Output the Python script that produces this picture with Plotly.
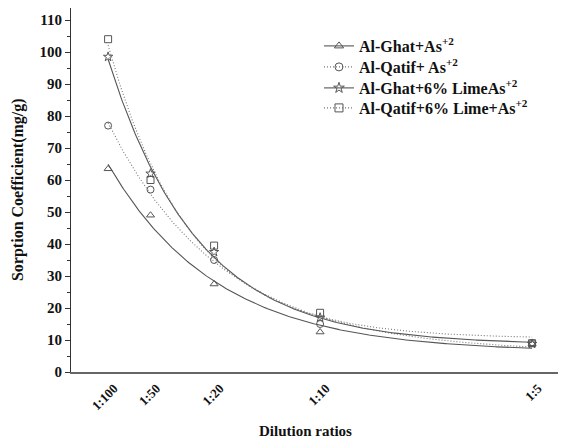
import numpy as np
import plotly.graph_objects as go

# Data
ratio_labels = ["1:100", "1:50", "1:20", "1:10", "1:5"]
ratio_x = [0.0, 0.02, 0.05, 0.10, 0.20]

ghat = [63.5, 49.0, 27.5, 12.5, 8.8]
qatif = [77.0, 57.0, 35.0, 15.0, 9.0]
ghat_lime = [98.5, 62.0, 37.5, 17.0, 8.8]
qatif_lime = [104.0, 60.0, 39.5, 18.5, 9.0]

series_names = [
    "<b>Al-Ghat+As<sup>+2</sup></b>",
    "<b>Al-Qatif+ As<sup>+2</sup></b>",
    "<b>Al-Ghat+6% LimeAs<sup>+2</sup></b>",
    "<b>Al-Qatif+6% Lime+As<sup>+2</sup></b>",
]
series_vals = [ghat, qatif, ghat_lime, qatif_lime]
symbols = ["triangle-up-open", "circle-open", "star-open", "square-open"]
dashes = ["solid", "1px,2px", "solid", "1px,2px"]
line_colors = ["#555555", "#777777", "#555555", "#777777"]
legend_ids = ["legend", "legend2", "legend3", "legend4"]


def exp_fit(x, y):
    # First-order exponential decay fit y = y0 + A*exp(-x/t)
    x = np.asarray(x, float)
    y = np.asarray(y, float)
    best = None
    for t in np.linspace(0.003, 0.3, 3000):
        M = np.column_stack([np.ones_like(x), np.exp(-x / t)])
        coef, *_ = np.linalg.lstsq(M, y, rcond=None)
        sse = float(np.sum((M @ coef - y) ** 2))
        if best is None or sse < best[0]:
            best = (sse, t, coef)
    _, t, coef = best
    xs = np.linspace(x.min(), x.max(), 300)
    return xs, coef[0] + coef[1] * np.exp(-xs / t)


fig = go.Figure()
marker_color = "#555555"
for name, vals, sym, dash, lc, lg in zip(series_names, series_vals, symbols, dashes,
                                         line_colors, legend_ids):
    xs, ys = exp_fit(ratio_x, vals)
    fig.add_trace(go.Scatter(x=xs, y=ys, mode="lines", showlegend=False,
                             line=dict(color=lc, width=1.1, dash=dash)))
    fig.add_trace(go.Scatter(x=ratio_x, y=vals, mode="markers", showlegend=False,
                             marker=dict(symbol=sym, size=7, color=marker_color,
                                         line=dict(width=1, color=marker_color))))
    fig.add_trace(go.Scatter(x=[None], y=[None], mode="lines+markers", name=name,
                             legend=lg,
                             line=dict(color=lc, width=1.1, dash=dash),
                             marker=dict(symbol=sym, size=8, color=marker_color,
                                         line=dict(width=1, color=marker_color))))

font_family = "Liberation Serif, Times New Roman, serif"

# legend rows (page px centres 46, 67, 88, 108) -> paper coords; plot spans page y 8..372
row_centres = [46, 67, 88, 108]
legend_cfg = {}
for lg, yc in zip(legend_ids, row_centres):
    legend_cfg[lg] = dict(x=0.501, y=(372 - yc) / 364.0, xanchor="left", yanchor="middle",
                          bgcolor="rgba(0,0,0,0)", font=dict(size=16, family=font_family),
                          itemwidth=30)

fig.update_layout(
    width=558, height=433,
    margin=dict(l=63, r=0, t=0, b=69),
    paper_bgcolor="white", plot_bgcolor="white",
    font=dict(family=font_family, color="#111111"),
    showlegend=True,
    xaxis=dict(
        range=[-0.0175, 0.216], showgrid=False, zeroline=False, automargin=False,
        tickmode="array", tickvals=ratio_x,
        ticktext=["<b>%s</b>" % t for t in ratio_labels],
        tickangle=-45, ticks="", tickfont=dict(size=13, family=font_family),
        ticklabelshift=6, ticklabelstandoff=2,
        showline=True, linecolor="#666666", linewidth=1.5, mirror=True,
    ),
    yaxis=dict(
        range=[0, 113.75], showgrid=False, zeroline=False, automargin=False,
        tickmode="linear", tick0=0, dtick=10,
        ticks="outside", ticklen=5, tickcolor="#333333",
        minor=dict(ticks="outside", ticklen=3, dtick=5, tickcolor="#333333"),
        tickfont=dict(size=15, family=font_family),
        tickprefix="<b>", ticksuffix="</b>",
        showline=True, linecolor="#333333", linewidth=1.2,
    ),
    **legend_cfg,
)

fig.add_annotation(text="<b>Sorption Coefficient(mg/g)</b>", xref="paper", yref="paper",
                   x=-0.107, y=0.5, xanchor="center", yanchor="middle", textangle=-90,
                   showarrow=False, font=dict(size=16, family=font_family))

fig.add_annotation(text="<b>Dilution ratios</b>", xref="paper", yref="paper",
                   x=0.473, y=-0.135, xanchor="center", yanchor="top",
                   showarrow=False, font=dict(size=15, family=font_family))

fig.write_html("out.html")
